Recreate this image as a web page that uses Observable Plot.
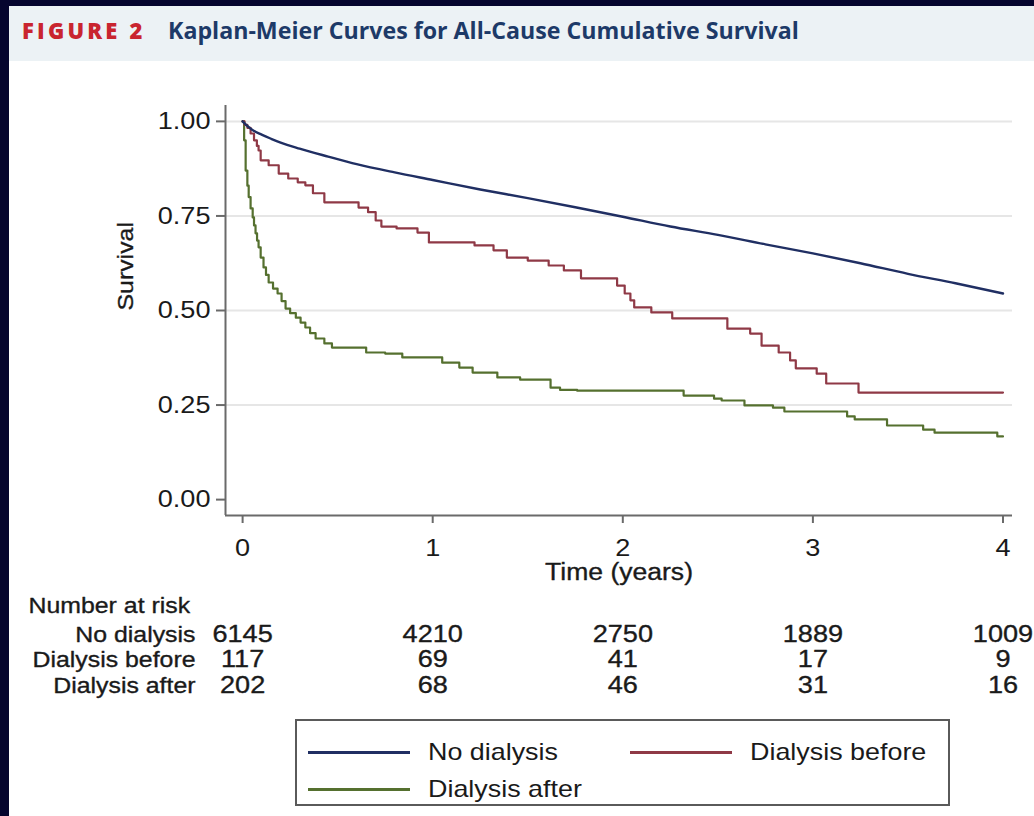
<!DOCTYPE html>
<html><head><meta charset="utf-8">
<script src="https://cdn.jsdelivr.net/npm/d3@7"></script>
<script src="https://cdn.jsdelivr.net/npm/@observablehq/plot@0.6"></script>
<style>
html,body{margin:0;padding:0;}
body{width:1034px;height:816px;background:#05052e;position:relative;overflow:hidden;font-family:"Liberation Sans",Arial,sans-serif;}
#panel{position:absolute;left:9px;top:6px;width:1025px;height:810px;background:#fff;}
#header{position:absolute;left:9px;top:6px;width:1025px;height:55px;background:#ecf2f5;}
#header .fig{position:absolute;left:13px;top:9px;font-family:"Open Sans",sans-serif;font-weight:800;font-size:22px;letter-spacing:3.2px;color:#c9252f;line-height:30px;}
#header .ttl{position:absolute;left:159px;top:9px;font-family:"Open Sans",sans-serif;font-weight:700;font-size:23.2px;color:#1d3a68;line-height:30px;}
#chart{position:absolute;left:0;top:61px;}
#legend{position:absolute;left:295px;top:719px;width:655px;height:87px;border:2px solid #5a5a5a;box-sizing:border-box;}
.item{position:absolute;height:30px;}
.item .sw{position:absolute;left:0;top:14px;width:102px;height:2.5px;}
.item .lb{position:absolute;left:120px;top:0;font-size:24px;line-height:30px;color:#1a1a1a;white-space:nowrap;transform:scaleX(1.12);transform-origin:left center;}
</style></head>
<body>
<div id="panel"></div>
<div id="header"><span class="fig">FIGURE 2</span><span class="ttl">Kaplan-Meier Curves for All-Cause Cumulative Survival</span></div>
<div id="chart"></div>
<div id="legend"></div>
<script>
// ---- Data ----
const seriesNames = ["No dialysis", "Dialysis before", "Dialysis after"];
const seriesColors = ["#202f63", "#8f3946", "#55702f"];

const noDialysisTime = [0, 0.02, 0.05, 0.1, 0.15, 0.2, 0.3, 0.45, 0.6, 0.8, 1.0, 1.25, 1.5, 1.75, 2.0, 2.25, 2.5, 2.75, 3.0, 3.25, 3.5, 3.75, 4.0];
const noDialysisSurv = [1, 0.99, 0.978, 0.965, 0.954, 0.944, 0.928, 0.907, 0.887, 0.865, 0.845, 0.82, 0.797, 0.773, 0.748, 0.722, 0.70, 0.675, 0.651, 0.625, 0.597, 0.572, 0.545];

const beforeTime = [0, 0.01, 0.025, 0.042, 0.06, 0.075, 0.084, 0.095, 0.137, 0.19, 0.24, 0.29, 0.33, 0.37, 0.43, 0.61, 0.66, 0.70, 0.73, 0.81, 0.92, 0.98, 1.22, 1.32, 1.39, 1.50, 1.61, 1.69, 1.78, 1.97, 2.01, 2.04, 2.06, 2.15, 2.26, 2.55, 2.67, 2.73, 2.82, 2.88, 2.91, 3.02, 3.07, 3.24, 4.0];
const beforeSurv = [1, 0.991, 0.983, 0.968, 0.95, 0.935, 0.923, 0.897, 0.884, 0.862, 0.849, 0.839, 0.831, 0.81, 0.786, 0.772, 0.76, 0.738, 0.722, 0.717, 0.706, 0.68, 0.672, 0.659, 0.64, 0.632, 0.619, 0.606, 0.585, 0.566, 0.545, 0.527, 0.508, 0.495, 0.479, 0.452, 0.439, 0.407, 0.389, 0.368, 0.347, 0.333, 0.307, 0.283, 0.283];

const afterTime = [0, 0.008, 0.016, 0.025, 0.032, 0.042, 0.053, 0.06, 0.068, 0.076, 0.084, 0.095, 0.11, 0.123, 0.137, 0.16, 0.184, 0.205, 0.226, 0.25, 0.28, 0.305, 0.33, 0.355, 0.384, 0.43, 0.47, 0.65, 0.75, 0.84, 1.05, 1.14, 1.21, 1.34, 1.46, 1.62, 1.67, 1.76, 2.32, 2.48, 2.52, 2.64, 2.79, 2.85, 3.18, 3.22, 3.39, 3.58, 3.64, 3.97, 4.0];
const afterSurv = [1, 0.95, 0.87, 0.83, 0.80, 0.77, 0.746, 0.725, 0.704, 0.685, 0.667, 0.64, 0.614, 0.594, 0.574, 0.558, 0.545, 0.525, 0.505, 0.493, 0.481, 0.468, 0.455, 0.44, 0.426, 0.413, 0.402, 0.389, 0.386, 0.376, 0.362, 0.349, 0.336, 0.323, 0.317, 0.296, 0.29, 0.288, 0.275, 0.267, 0.262, 0.249, 0.243, 0.233, 0.22, 0.212, 0.196, 0.185, 0.177, 0.167, 0.167];

const riskTimes = [0, 1, 2, 3, 4];
const riskNoDialysis = [6145, 4210, 2750, 1889, 1009];
const riskBefore = [117, 69, 41, 17, 9];
const riskAfter = [202, 68, 46, 31, 16];

const xTicks = [0, 1, 2, 3, 4];
const yTicks = [0, 0.25, 0.5, 0.75, 1];
const gridTicks = [0.25, 0.5, 0.75, 1];

// ---- Build tables ----
const toRows = (ts, ss, name) => ts.map((t, i) => ({time: t, surv: ss[i], group: name}));
const noRows = toRows(noDialysisTime, noDialysisSurv, seriesNames[0]);
const beforeRows = toRows(beforeTime, beforeSurv, seriesNames[1]);
const afterRows = toRows(afterTime, afterSurv, seriesNames[2]);
const riskLists = [riskNoDialysis, riskBefore, riskAfter];

const xDomain = [-0.09, 4.05];
const yDomain = [-0.042, 1.042];
const rowDy = [126, 151, 177];
const axisGray = "#6a6a6a";
const textColor = "#1a1a1a";
const txt = {fontSize: 22, fill: textColor, stroke: textColor, strokeWidth: 0.35};

const marks = [
  Plot.ruleY(gridTicks, {stroke: "#e6e6e6", strokeWidth: 2}),
  Plot.ruleX([xDomain[0]], {stroke: axisGray, strokeWidth: 2}),
  Plot.ruleY([yDomain[0]], {stroke: axisGray, strokeWidth: 2}),
  Plot.axisY(yTicks, {tickSize: 9, tickPadding: 6, tickFormat: d3.format(".2f"), stroke: axisGray, strokeWidth: 2, fill: textColor, fontSize: 24, label: null}),
  Plot.axisX(xTicks, {tickSize: 8, tickPadding: 15, tickFormat: d3.format("d"), stroke: axisGray, strokeWidth: 2, fill: textColor, fontSize: 24, label: null}),
  Plot.text(["Survival"], {frameAnchor: "left", dx: -100, rotate: -90, ...txt}),
  Plot.text(["Time (years)"], {frameAnchor: "bottom", dy: 64, ...txt, fontSize: 23.5}),
  Plot.line(afterRows, {x: "time", y: "surv", stroke: seriesColors[2], strokeWidth: 2.2, curve: "step-after"}),
  Plot.line(beforeRows, {x: "time", y: "surv", stroke: seriesColors[1], strokeWidth: 2.2, curve: "step-after"}),
  Plot.line(noRows, {x: "time", y: "surv", stroke: seriesColors[0], strokeWidth: 2.4, curve: "monotone-x"}),
  Plot.text(["Number at risk"], {frameAnchor: "bottom-left", dx: -197, dy: 97, textAnchor: "start", ...txt}),
];
seriesNames.forEach((name, k) => {
  marks.push(Plot.text([name], {frameAnchor: "bottom-left", dx: -30, dy: rowDy[k], textAnchor: "end", ...txt}));
  const rows = riskTimes.map((t, i) => ({time: t, n: String(riskLists[k][i])}));
  marks.push(Plot.text(rows, {x: "time", text: "n", frameAnchor: "bottom", dy: rowDy[k], ...txt, fontSize: 24}));
});

const chart = Plot.plot({
  width: 1034,
  height: 755,
  marginLeft: 225,
  marginRight: 22,
  marginTop: 44,
  marginBottom: 301,
  x: {domain: xDomain},
  y: {domain: yDomain},
  style: {fontFamily: "'Liberation Sans', Arial, sans-serif", fontSize: "22px", color: textColor, background: "transparent", overflow: "visible"},
  marks
});
// slight horizontal stretch of text, as in the reference image
chart.querySelectorAll("text").forEach(t => {
  const tr = t.getAttribute("transform");
  if (tr && tr.startsWith("translate")) t.setAttribute("transform", tr + " scale(1.13,1)");
});
document.getElementById("chart").appendChild(chart);

// ---- Legend ----
const legend = document.getElementById("legend");
const legendPos = [[11, 16], [333, 16], [11, 53]];
seriesNames.forEach((name, k) => {
  const it = document.createElement("div");
  it.className = "item";
  it.style.left = legendPos[k][0] + "px";
  it.style.top = legendPos[k][1] + "px";
  const sw = document.createElement("div");
  sw.className = "sw";
  sw.style.background = seriesColors[k];
  const lb = document.createElement("span");
  lb.className = "lb";
  lb.textContent = name;
  it.appendChild(sw); it.appendChild(lb);
  legend.appendChild(it);
});
</script>
</body></html>
